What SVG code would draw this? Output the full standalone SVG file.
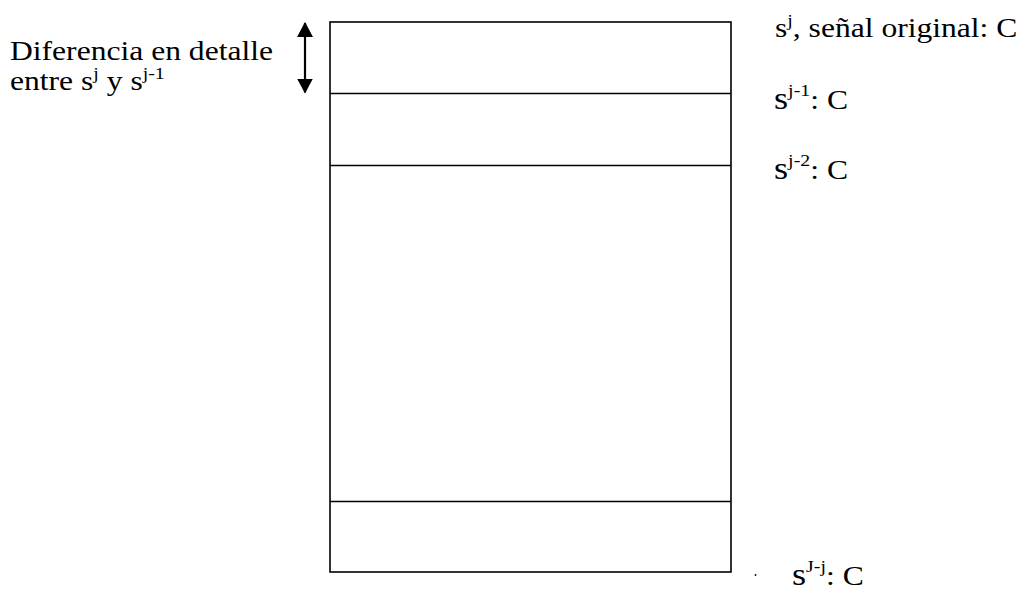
<svg xmlns="http://www.w3.org/2000/svg" width="1024" height="590" viewBox="0 0 1024 590">
  <style>
    .lbl { font-family: "Liberation Serif", "Times New Roman", serif; font-size: 27px; fill: #000; }
    .sup { font-size: 17px; }
    .big { font-size: 31px; }
    .ln { stroke: #000; stroke-width: 1.6; fill: none; }
  </style>
  <defs>
    <marker id="head" viewBox="0 0 15 16" refX="14" refY="8" markerWidth="15" markerHeight="16" markerUnits="userSpaceOnUse" orient="auto-start-reverse">
      <path d="M0,0 L15,8 L0,16 Z" fill="#000"/>
    </marker>
  </defs>
  <rect width="1024" height="590" fill="#fff"/>

  <!-- stacked signal levels -->
  <g id="levels">
    <rect class="ln" x="330" y="22" width="401" height="550"/>
    <line class="ln" x1="330" y1="93.5" x2="731" y2="93.5"/>
    <line class="ln" x1="330" y1="165.5" x2="731" y2="165.5"/>
    <line class="ln" x1="330" y1="501.5" x2="731" y2="501.5"/>
  </g>

  <g id="connectors">
    <line x1="305" y1="23" x2="305" y2="92.5" stroke="#000" stroke-width="2.2" marker-start="url(#head)" marker-end="url(#head)"/>
  </g>

  <!-- labels are drawn slightly wide: scale(1.17,1) -->
  <g id="label-diff">
    <text class="lbl" transform="translate(10,60) scale(1.17,1)">Diferencia en detalle</text>
    <text class="lbl" transform="translate(10,90) scale(1.17,1)">entre s<tspan class="sup" dy="-11">j</tspan><tspan dy="11"> y s</tspan><tspan class="sup" dy="-11">j-1</tspan></text>
  </g>

  <g id="label-sj">
    <text class="lbl" transform="translate(775,37) scale(1.17,1)">s<tspan class="sup" dy="-11">j</tspan><tspan dy="11">, señal original: C</tspan></text>
  </g>
  <g id="label-sj1">
    <text class="lbl" transform="translate(774,109) scale(1.17,1)"><tspan class="big">s</tspan><tspan class="sup" dy="-13">j-1</tspan><tspan dy="13">: C</tspan></text>
  </g>
  <g id="label-sj2">
    <text class="lbl" transform="translate(774,179) scale(1.17,1)"><tspan class="big">s</tspan><tspan class="sup" dy="-13">j-2</tspan><tspan dy="13">: C</tspan></text>
  </g>
  <g id="label-sJj">
    <circle cx="755.5" cy="575" r="0.9" fill="#000"/>
    <text class="lbl" transform="translate(792,585) scale(1.17,1)"><tspan class="big">s</tspan><tspan class="sup" dy="-13">J-j</tspan><tspan dy="13">: C</tspan></text>
  </g>
</svg>
